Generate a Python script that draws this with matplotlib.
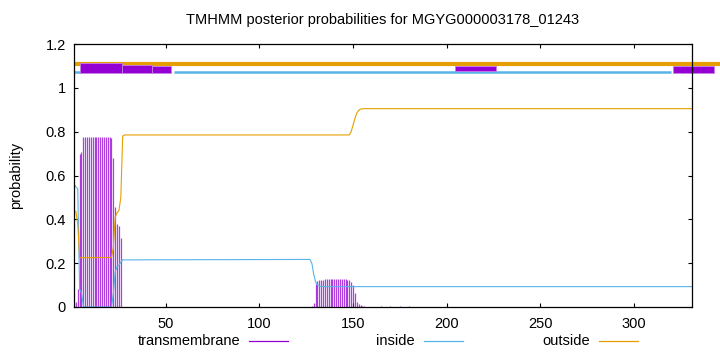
import matplotlib
matplotlib.use("Agg")
import matplotlib.pyplot as plt
from matplotlib.patches import Rectangle
from matplotlib.lines import Line2D

plt.rcParams['font.family'] = ['Liberation Sans', 'DejaVu Sans']

TITLE = "TMHMM posterior probabilities for MGYG000003178_01243"
SEQ_LEN = 331

# transmembrane posterior (impulses), residue -> probability
tm_res = [1, 2, 3, 4, 5, 6, 7, 8, 9, 10, 11, 12, 13, 14, 15, 16, 17, 18, 19, 20,
          21, 22, 23, 24, 25, 26,
          128, 129, 130, 131, 132, 133, 134, 135, 136, 137, 138, 139, 140, 141,
          142, 143, 144, 145, 146, 147, 148, 149, 150, 151, 152, 153, 154, 155,
          156, 157, 165, 170, 175, 180, 185]
tm_val = [0.018, 0.024, 0.082, 0.698, 0.707, 0.774, 0.774, 0.774, 0.774, 0.774,
          0.774, 0.774, 0.774, 0.774, 0.774, 0.774, 0.774, 0.774, 0.774, 0.774,
          0.770, 0.681, 0.456, 0.377, 0.370, 0.316,
          0.004, 0.020, 0.104, 0.119, 0.122, 0.124, 0.125, 0.126, 0.126, 0.126,
          0.126, 0.126, 0.126, 0.126, 0.126, 0.126, 0.126, 0.126, 0.126, 0.125,
          0.122, 0.115, 0.100, 0.065, 0.022, 0.012, 0.008, 0.005, 0.003, 0.002,
          0.003, 0.003, 0.003, 0.003, 0.002]

# inside posterior (line)
in_res = [1, 2, 3, 4, 5, 6, 7, 21, 22, 23, 24, 25, 26, 27, 127, 128, 129, 130,
          131, 132, 134, 331]
in_val = [0.561, 0.548, 0.540, 0.080, 0.066, 0.004, 0.0, 0.0, 0.060, 0.160,
          0.185, 0.190, 0.205, 0.215, 0.217, 0.200, 0.150, 0.115, 0.100, 0.096,
          0.093, 0.093]

# outside posterior (line)
out_res = [1, 2, 3, 4, 21, 22, 23, 24, 25, 26, 27, 28, 148, 149, 150, 151, 152,
           153, 154, 156, 331]
out_val = [0.438, 0.436, 0.380, 0.225, 0.226, 0.270, 0.410, 0.430, 0.440, 0.500,
           0.780, 0.785, 0.785, 0.800, 0.830, 0.860, 0.885, 0.897, 0.903, 0.905,
           0.905]

# predicted topology bar at the top
outside_seg = [(1, 346)]
inside_seg = [(1, 4.5), (54.3, 319.7)]
tm_boxes = [(4.0, 26.5, 1.066, 1.115), (26.5, 42.5, 1.067, 1.106),
            (42.5, 52.7, 1.067, 1.100), (204.4, 226.3, 1.077, 1.101),
            (320.8, 342.7, 1.066, 1.101)]

C_TM = '#9400d3'
C_IN = '#56b4e9'
C_OUT = '#e69f00'

fig = plt.figure(figsize=(7.2, 3.52), dpi=100)
ax = fig.add_axes([74/720, 1-307/352, (692-74)/720, (307-44)/352])

ax.vlines(tm_res, 0, tm_val, color=C_TM, lw=0.9, alpha=0.75, zorder=2)
ax.plot(in_res, in_val, color=C_IN, lw=0.8, zorder=3)
ax.plot(out_res, out_val, color=C_OUT, lw=0.8, zorder=3)

for a, b in outside_seg:
    ax.plot([a, b], [1.109, 1.109], color=C_OUT, lw=3.0, solid_capstyle='butt',
            clip_on=False, zorder=4)
for a, b in inside_seg:
    ax.plot([a, b], [1.0725, 1.0725], color=C_IN, lw=1.8, solid_capstyle='butt',
            clip_on=False, zorder=4)
for x0, x1, y0, y1 in tm_boxes:
    ax.add_patch(Rectangle((x0, y0), x1 - x0, y1 - y0, facecolor=C_TM,
                           edgecolor='#c77ee6', lw=0.6, clip_on=False, zorder=5))

ax.set_xlim(1, SEQ_LEN)
ax.set_ylim(0, 1.2)
ax.set_xticks([50, 100, 150, 200, 250, 300])
ax.set_yticks([0, 0.2, 0.4, 0.6, 0.8, 1.0, 1.2])
ax.set_yticklabels(['0', '0.2', '0.4', '0.6', '0.8', '1', '1.2'])
ax.tick_params(direction='in', length=3, width=0.8, top=True, right=True,
               labelsize=10.5, colors='black')
ax.tick_params(axis='x', pad=7)
ax.tick_params(axis='y', pad=6)
for s in ax.spines.values():
    s.set_linewidth(0.9)
    s.set_zorder(6)

ax.set_ylabel('probability', fontsize=10.5, labelpad=16)
fig.text(383/720, 1-20/352, TITLE, ha='center', va='center', fontsize=10.5)

# legend row (gnuplot style: label then sample)
legend_items = [('transmembrane', C_TM, 240, 249, 288),
                ('inside', C_IN, 415, 424, 463),
                ('outside', C_OUT, 590, 599, 638)]
ly = 1 - 341/352
for label, col, tx, l0, l1 in legend_items:
    fig.text(tx/720, ly, label, ha='right', va='center', fontsize=10.5)
    fig.add_artist(Line2D([l0/720, l1/720], [ly, ly], color=col, lw=0.9,
                          transform=fig.transFigure))

fig.savefig('out.png', dpi=100)
